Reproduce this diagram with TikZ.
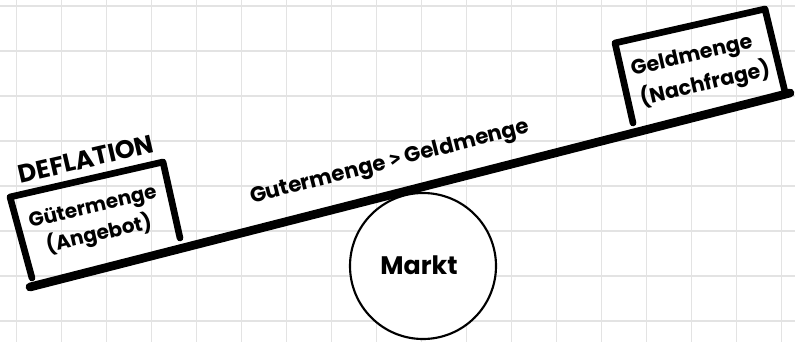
\documentclass[tikz,border=0pt]{standalone}
\usepackage{fontspec}
\setmainfont{Poppins}
\newfontfamily\gtfont{Fira Sans}
\begin{document}
\begin{tikzpicture}[x=0.75pt,y=-0.75pt,
  gridline/.style={line width=1.1pt,color=black!11},
  beam/.style={line width=6.5pt,line cap=round,line join=round},
  boxline/.style={line width=5pt,line cap=round,line join=round},
  hand/.style={font=\bfseries\fontsize{#1}{#1}\selectfont,inner sep=0pt,anchor=center},
  hand/.default=14pt]
\useasboundingbox (0,0) rectangle (795,342);
\fill[white] (0,0) rectangle (795,342);
% grid
\foreach \x in {16.5,61.5,...,800} \draw[gridline] (\x,0) -- (\x,342);
\foreach \y in {6,51,...,342} \draw[gridline] (0,\y) -- (795,\y);
% beam
\coordinate (bl) at (30,287);
\coordinate (br) at (790,93);
% circle
\node[draw,circle,line width=1.6pt,minimum size=109.5pt,inner sep=0pt,fill=white] (markt) at (423,266) {};
\node[hand=19pt] (marktlabel) at (419,265) {Markt};
\draw[beam] (bl) -- (br);
% left box
\coordinate (l1) at (32,278);
\coordinate (l2) at (10,197);
\coordinate (l3) at (163,162);
\coordinate (l4) at (180,238);
\draw[boxline] (l1) -- (l2) -- (l3) -- (l4);
% right box
\coordinate (r1) at (633,123);
\coordinate (r2) at (615,43);
\coordinate (r3) at (765,9);
\coordinate (r4) at (785,92);
\draw[boxline] (r1) -- (r2) -- (r3) -- (r4);
% texts
\node[hand=19pt,rotate=13] (defl) at (86,159) {DEFLATION};
\node[hand=15pt,rotate=13] (guet) at (93,208) {Gütermenge};
\node[hand=15pt,rotate=13] (angebot) at (99,234) {(Angebot)};
\node[hand=15.5pt,rotate=13] (geld) at (692,57) {Geldmenge};
\node[hand=15.5pt,rotate=13] (nach) at (705,84) {(Nachfrage)};
\node[hand=16pt,rotate=14.3] (rel) at (390,163) {Gutermenge {\gtfont >} Geldmenge};
\end{tikzpicture}
\end{document}
